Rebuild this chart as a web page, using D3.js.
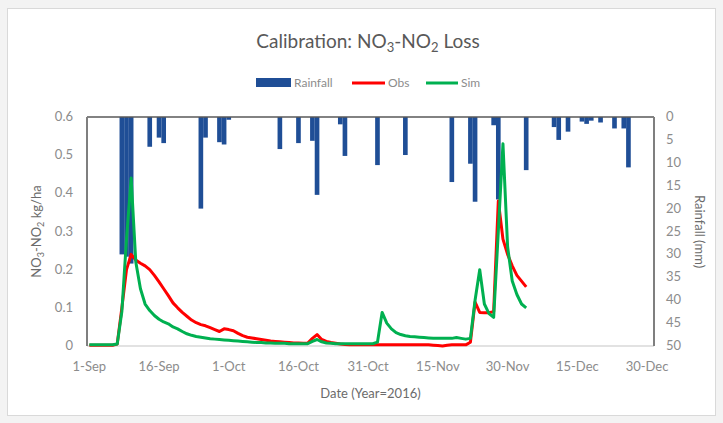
<!DOCTYPE html>
<html>
<head>
<meta charset="utf-8">
<script src="https://cdn.jsdelivr.net/npm/d3@7"></script>
<style>
  body { margin: 0; background: #f3f3f3; }
  text { font-family: Lato, "Open Sans", sans-serif; }
</style>
</head>
<body>
<div id="chart"></div>
<script>
// daily series start on 1-Sep-2016, one value per day
const seriesStart = "2016-09-01";

const obsValues = [
  0.002, 0.002, 0.002, 0.002, 0.002, 0.002, 0.005, 0.1, 0.2, 0.24,
  0.225, 0.217, 0.21, 0.2, 0.185, 0.168, 0.15, 0.132, 0.113, 0.1,
  0.088, 0.078, 0.068, 0.061, 0.056, 0.053, 0.048, 0.043, 0.038, 0.045,
  0.043, 0.04, 0.033, 0.027, 0.023, 0.021, 0.019, 0.017, 0.015, 0.013,
  0.012, 0.011, 0.01, 0.009, 0.008, 0.008, 0.007, 0.008, 0.02, 0.03,
  0.017, 0.012, 0.009, 0.007, 0.005, 0.004, 0.003, 0.003, 0.003, 0.003,
  0.003, 0.003, 0.003, 0.003, 0.003, 0.003, 0.003, 0.003, 0.003, 0.003,
  0.003, 0.003, 0.003, 0.003, 0.002, 0.001, 0.0, 0.002, 0.003, 0.003,
  0.003, 0.003, 0.01, 0.115, 0.088, 0.087, 0.087, 0.09, 0.38, 0.28,
  0.24, 0.21, 0.185, 0.17, 0.155
];

const simValues = [
  0.003, 0.003, 0.003, 0.003, 0.003, 0.003, 0.005, 0.09, 0.28, 0.44,
  0.22, 0.15, 0.11, 0.093, 0.08, 0.07, 0.063, 0.058, 0.05, 0.045,
  0.038, 0.032, 0.028, 0.025, 0.023, 0.021, 0.019, 0.018, 0.017, 0.016,
  0.015, 0.014, 0.013, 0.012, 0.011, 0.01, 0.009, 0.009, 0.008, 0.008,
  0.007, 0.007, 0.007, 0.006, 0.006, 0.006, 0.006, 0.006, 0.012, 0.017,
  0.011, 0.008, 0.007, 0.006, 0.006, 0.006, 0.006, 0.006, 0.006, 0.006,
  0.006, 0.006, 0.01, 0.088, 0.06, 0.045, 0.035, 0.03, 0.027, 0.025,
  0.024, 0.023, 0.022, 0.021, 0.02, 0.02, 0.02, 0.02, 0.02, 0.022,
  0.02, 0.018, 0.02, 0.12, 0.2, 0.11, 0.085, 0.075, 0.3, 0.53,
  0.26, 0.17, 0.135, 0.11, 0.1
];

const rainDates = [
  "2016-09-08", "2016-09-09", "2016-09-10", "2016-09-14", "2016-09-16", "2016-09-17",
  "2016-09-25", "2016-09-26", "2016-09-29", "2016-09-30", "2016-10-01", "2016-10-12",
  "2016-10-16", "2016-10-19", "2016-10-20", "2016-10-25", "2016-10-26", "2016-11-02",
  "2016-11-08", "2016-11-18", "2016-11-22", "2016-11-23", "2016-11-27", "2016-11-28",
  "2016-12-04", "2016-12-10", "2016-12-11", "2016-12-13", "2016-12-16", "2016-12-17",
  "2016-12-18", "2016-12-20", "2016-12-23", "2016-12-25", "2016-12-26"
];
const rainMm = [
  30, 30.5, 32, 6.5, 4.5, 5.7,
  20, 4.5, 5.5, 6, 0.6, 7,
  5.7, 5.2, 17, 1.6, 8.5, 10.5,
  8.3, 14.2, 10.2, 18.5, 1.8, 18,
  11.6, 2.2, 5, 3.2, 1, 1.5,
  0.8, 1.2, 2.5, 2.5, 11
];

const xTickDates = ["2016-09-01", "2016-09-16", "2016-10-01", "2016-10-16", "2016-10-31",
  "2016-11-15", "2016-11-30", "2016-12-15", "2016-12-30"];
const yLeftTicks = [0, 0.1, 0.2, 0.3, 0.4, 0.5, 0.6];
const yRightTicks = [0, 5, 10, 15, 20, 25, 30, 35, 40, 45, 50];

const width = 723, height = 423;
const plot = {left: 87, right: 654, top: 117, bottom: 346};

const parseDate = d3.utcParse("%Y-%m-%d");
const start = parseDate(seriesStart);
const obsData = obsValues.map((v, i) => ({date: d3.utcDay.offset(start, i), value: v}));
const simData = simValues.map((v, i) => ({date: d3.utcDay.offset(start, i), value: v}));
const rainData = rainDates.map((d, i) => ({date: parseDate(d), mm: rainMm[i]}));

const svg = d3.select("#chart").append("svg")
    .attr("width", width)
    .attr("height", height);

// chart frame
svg.append("rect")
    .attr("x", 7.5).attr("y", 8.5)
    .attr("width", 708).attr("height", 407)
    .attr("fill", "white")
    .attr("stroke", "#d9d9d9");

const x = d3.scaleUtc()
    .domain([d3.utcHour.offset(start, -12), d3.utcHour.offset(parseDate("2016-12-31"), 12)])
    .range([plot.left, plot.right]);
const yLeft = d3.scaleLinear().domain([0, 0.6]).range([plot.bottom, plot.top]);
const yRight = d3.scaleLinear().domain([0, 50]).range([plot.top, plot.bottom]);

const dayWidth = x(d3.utcDay.offset(start, 1)) - x(start);
const barWidth = dayWidth * 1.0;

// rainfall bars hang from the top
svg.append("g").selectAll("rect")
    .data(rainData)
    .join("rect")
    .attr("x", d => x(d.date) - barWidth / 2)
    .attr("y", yRight(0))
    .attr("width", barWidth)
    .attr("height", d => yRight(d.mm) - yRight(0))
    .attr("fill", "#1f4e96");

// axes lines
svg.append("line")
    .attr("x1", plot.left).attr("x2", plot.right)
    .attr("y1", plot.bottom).attr("y2", plot.bottom)
    .attr("stroke", "#d9d9d9").attr("stroke-width", 1.5);
svg.append("line")
    .attr("x1", plot.left).attr("x2", plot.right)
    .attr("y1", plot.top).attr("y2", plot.top)
    .attr("stroke", "#595959").attr("stroke-width", 1.5);
svg.append("line")
    .attr("x1", plot.left).attr("x2", plot.left)
    .attr("y1", plot.top).attr("y2", plot.bottom)
    .attr("stroke", "#7f7f7f").attr("stroke-width", 2);
svg.append("line")
    .attr("x1", plot.right).attr("x2", plot.right)
    .attr("y1", plot.top).attr("y2", plot.bottom)
    .attr("stroke", "#7f7f7f").attr("stroke-width", 2);

const line = d3.line()
    .x(d => x(d.date))
    .y(d => yLeft(d.value));

svg.append("path")
    .datum(obsData)
    .attr("fill", "none")
    .attr("stroke", "#ff0000")
    .attr("stroke-width", 3)
    .attr("stroke-linejoin", "round")
    .attr("d", line);

svg.append("path")
    .datum(simData)
    .attr("fill", "none")
    .attr("stroke", "#00b050")
    .attr("stroke-width", 3)
    .attr("stroke-linejoin", "round")
    .attr("d", line);

// tick labels
const labelColor = "#8c8c8c";
const fmt = d3.utcFormat("%-d-%b");

svg.append("g").selectAll("text")
    .data(xTickDates)
    .join("text")
    .attr("x", d => x(parseDate(d)))
    .attr("y", plot.bottom + 25)
    .attr("text-anchor", "middle")
    .attr("font-size", 13)
    .attr("fill", labelColor)
    .text(d => fmt(parseDate(d)));

svg.append("g").selectAll("text")
    .data(yLeftTicks)
    .join("text")
    .attr("x", 73)
    .attr("y", d => yLeft(d) + 4)
    .attr("text-anchor", "end")
    .attr("font-size", 13)
    .attr("fill", labelColor)
    .text(d => d);

svg.append("g").selectAll("text")
    .data(yRightTicks)
    .join("text")
    .attr("x", 666)
    .attr("y", d => yRight(d) + 4)
    .attr("text-anchor", "start")
    .attr("font-size", 13)
    .attr("fill", labelColor)
    .text(d => d);

// axis titles
const titleColor = "#6b6b6b";
svg.append("text")
    .attr("x", (plot.left + plot.right) / 2)
    .attr("y", 398)
    .attr("text-anchor", "middle")
    .attr("font-size", 13)
    .attr("fill", titleColor)
    .text("Date (Year=2016)");

const yTitle = svg.append("text")
    .attr("transform", `translate(41, ${(plot.top + plot.bottom) / 2}) rotate(-90)`)
    .attr("text-anchor", "middle")
    .attr("font-size", 13)
    .attr("fill", titleColor);
yTitle.append("tspan").text("NO");
yTitle.append("tspan").attr("font-size", 9).attr("dy", 3).text("3");
yTitle.append("tspan").attr("dy", -3).text("-NO");
yTitle.append("tspan").attr("font-size", 9).attr("dy", 3).text("2");
yTitle.append("tspan").attr("dy", -3).text(" kg/ha");

svg.append("text")
    .attr("transform", `translate(695, ${(plot.top + plot.bottom) / 2}) rotate(90)`)
    .attr("text-anchor", "middle")
    .attr("font-size", 13)
    .attr("fill", titleColor)
    .text("Rainfall (mm)");

// chart title
const title = svg.append("text")
    .attr("x", 368)
    .attr("y", 48)
    .attr("text-anchor", "middle")
    .attr("font-size", 19)
    .attr("fill", "#595959");
title.append("tspan").text("Calibration: NO");
title.append("tspan").attr("font-size", 13).attr("dy", 4).text("3");
title.append("tspan").attr("dy", -4).text("-NO");
title.append("tspan").attr("font-size", 13).attr("dy", 4).text("2");
title.append("tspan").attr("dy", -4).text(" Loss");

// legend
const legend = svg.append("g").attr("font-size", 12).attr("fill", labelColor);
legend.append("rect")
    .attr("x", 256).attr("y", 78).attr("width", 35).attr("height", 9)
    .attr("fill", "#1f4e96");
legend.append("text").attr("x", 294).attr("y", 87).text("Rainfall");
legend.append("line")
    .attr("x1", 352).attr("x2", 385).attr("y1", 83).attr("y2", 83)
    .attr("stroke", "#ff0000").attr("stroke-width", 3);
legend.append("text").attr("x", 388).attr("y", 87).text("Obs");
legend.append("line")
    .attr("x1", 426).attr("x2", 458).attr("y1", 83).attr("y2", 83)
    .attr("stroke", "#00b050").attr("stroke-width", 3);
legend.append("text").attr("x", 461).attr("y", 87).text("Sim");
</script>
</body>
</html>
